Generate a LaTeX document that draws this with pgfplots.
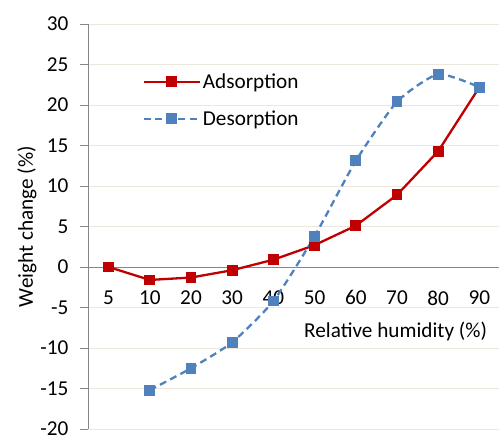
\documentclass[border=0pt]{standalone}
\usepackage{pgfplots}
\pgfplotsset{compat=1.18}
\usepackage{fontspec}
\setmainfont{Carlito}
\definecolor{adsred}{RGB}{192,0,0}
\definecolor{desblue}{RGB}{79,129,189}
\definecolor{gridc}{RGB}{236,232,222}
\definecolor{axc}{RGB}{134,134,134}
\newcommand{\cf}{\fontsize{21.3}{25}\selectfont}
\begin{document}
\begin{tikzpicture}
\begin{axis}[
  scale only axis,
  width=412bp, height=405bp,
  xmin=-0.5, xmax=9.5,
  ymin=-20, ymax=30,
  axis y line*=left,
  axis x line*=middle,
  axis line style={draw=axc, line width=0.9bp},
  xtick={0,...,9},
  xticklabels={5,10,20,30,40,50,60,70,80,90},
  x tick style={draw=none},
  extra x ticks={-0.5,0.5,...,9.5},
  extra x tick labels={},
  extra x tick style={tick style={draw=axc, line width=0.9bp}, major tick length=6bp},
  ytick={-20,-15,...,30},
  yticklabels={-20,-15,-10,-5,0,5,10,15,20,25,30},
  tick align=outside,
  major tick length=8bp,
  y tick style={draw=axc, line width=0.9bp},
  ymajorgrids,
  grid style={draw=gridc, line width=0.9bp},
  ticklabel style={font=\cf, text=black},
  x tick label style={yshift=-12bp},
  y tick label style={xshift=-8bp},
  legend style={draw=none, fill=none, font=\cf,
    at={([xshift=2bp]rel axis cs:0.12,0.888)}, anchor=north west, row sep=17bp,
    legend cell align=left},
  legend image code/.code={\draw[mark repeat=2,mark phase=2] plot coordinates {(0bp,0bp)(28bp,0bp)(56bp,0bp)};},
]
\addplot[color=adsred, line width=2.3bp, mark=square*, mark size=4.3bp, mark options={solid}]
coordinates {(0,0) (1,-1.6) (2,-1.3) (3,-0.4) (4,0.9) (5,2.7) (6,5.1) (7,8.9) (8,14.3) (9,22.2)};
\addlegendentry{Adsorption}
\addplot[color=desblue, line width=2.3bp, dash pattern=on 7bp off 4.5bp, smooth, tension=0.35, mark=square*, mark size=4.3bp, mark options={solid}]
coordinates {(1,-15.2) (2,-12.5) (3,-9.3) (4,-4.2) (5,3.8) (6,13.1) (7,20.4) (8,23.8) (9,22.2)};
\addlegendentry{Desorption}
\node[anchor=east, font=\cf] at (rel axis cs:0.977,0.242) {Relative humidity (\%)};
\coordinate (YL) at (rel axis cs:0,0.5);
\coordinate (SW) at (rel axis cs:0,0);
\coordinate (NE) at (rel axis cs:1,1);
\end{axis}
\node[rotate=90, font=\cf] at ([xshift=-61bp]YL) {Weight change (\%)};
\pgfresetboundingbox
\path[use as bounding box] ([shift={(-88bp,-11bp)}]SW) rectangle ([shift={(-1bp,24bp)}]NE);
\end{tikzpicture}
\end{document}
